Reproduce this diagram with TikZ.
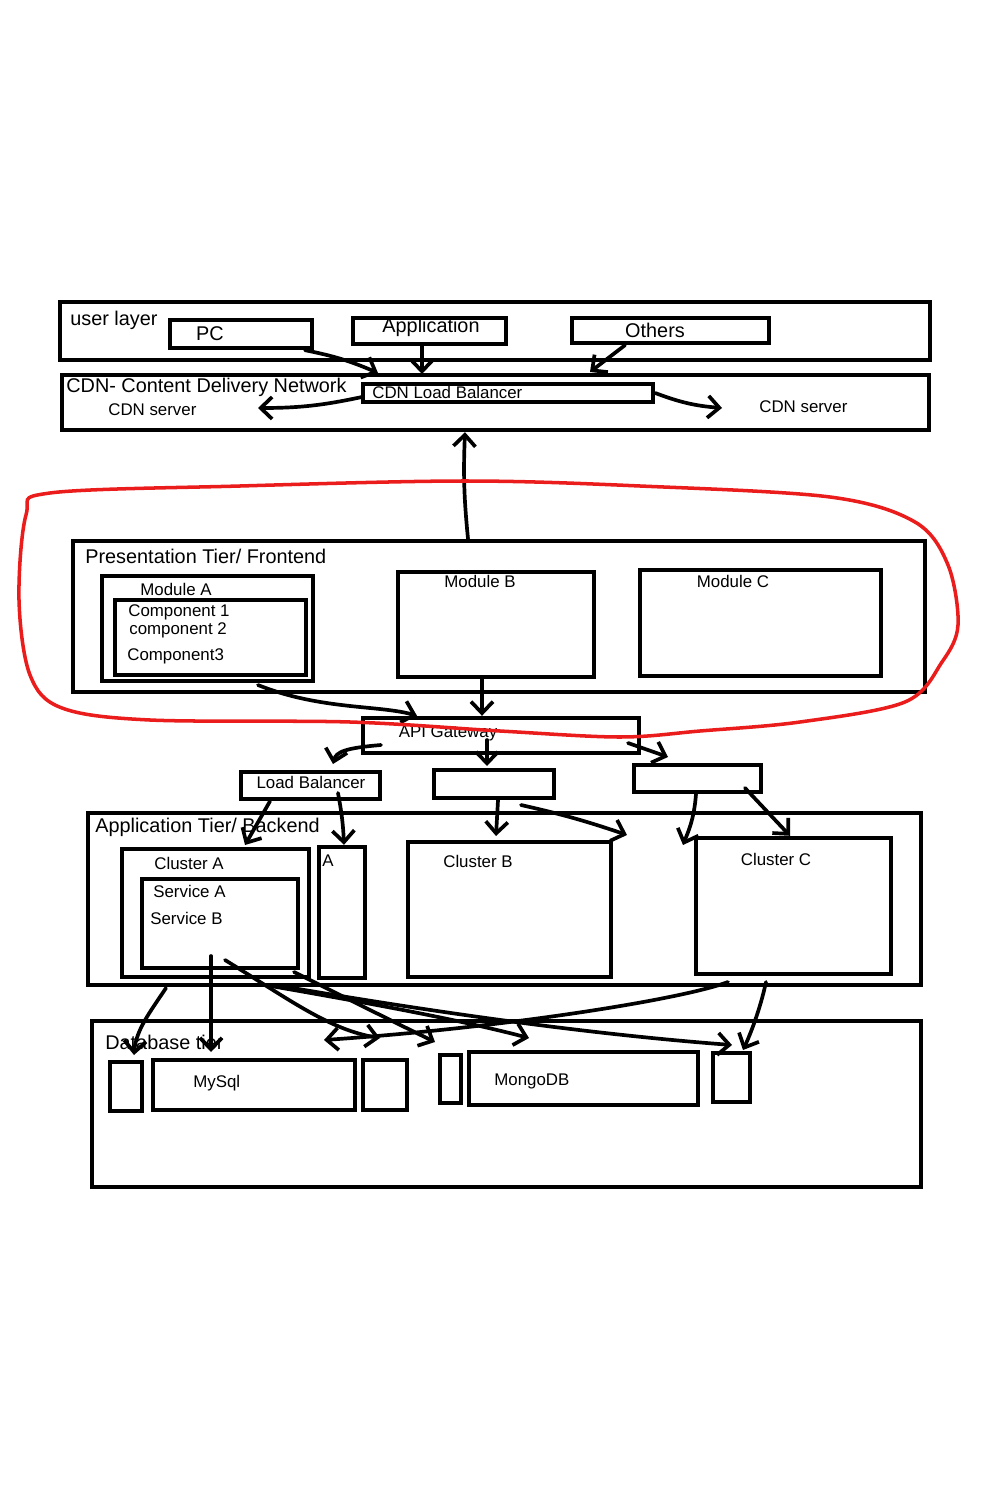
\documentclass[tikz,border=0pt]{standalone}
\usepackage{fontspec}
\setmainfont{Liberation Sans}
\usepackage{tikz}
\usetikzlibrary{arrows.meta,fit,positioning}
\definecolor{penred}{RGB}{235,28,28}
\definecolor{penblack}{RGB}{0,0,0}

\begin{document}
\begin{tikzpicture}[x=0.02cm,y=-0.02cm,
  box/.style={draw=penblack,line width=2.5pt,inner sep=0pt},
  big/.style={font=\fontsize{11.3}{13}\selectfont,inner sep=0pt},
  small/.style={font=\fontsize{9.6}{11}\selectfont,inner sep=0pt},
  pen/.style={draw=penblack,line width=2.1pt,line cap=round,line join=round,
    -{Straight Barb[length=2.3mm,width=4.4mm,line width=2.1pt]}}]
  \fill[white] (0,0) rectangle (1000,1500);
  \useasboundingbox (0,0) rectangle (1000,1500);
  % user layer
  \node[box,fit={(60,302) (930,360)}] (user) {};
  \node[big,anchor=west] (userlbl) at (70,320) {user layer};
  \node[box,fit={(170,320) (312,348)}] (pc) {};
  \node[big] (pclbl) at (210,334) {PC};
  \node[box,fit={(353,318) (506,344)}] (app) {};
  \node[big] (applbl) at (431,327) {Application};
  \node[box,fit={(572,318) (769,343)}] (others) {};
  \node[big] (otherslbl) at (655,330) {Others};
  % cdn
  \node[box,fit={(62,375) (929,430)}] (cdn) {};
  \node[big,anchor=west] (cdnlbl) at (66,387) {CDN- Content Delivery Network};
  \node[small,anchor=west] (cdnsrvl) at (108,410) {CDN server};
  \node[small,anchor=west] (cdnsrvr) at (759,407) {CDN server};
  \node[box,fit={(363,384) (653,402)}] (cdnlb) {};
  \node[small,anchor=west] (cdnlblbl) at (372,392) {CDN Load Balancer};
  \coordinate (pcin) at (378,373);
  \coordinate (othersin) at (590,372);
  \coordinate (lbleft) at (258,408);
  \coordinate (lbright) at (722,408);
  \draw[pen] (305,0 |- pc.south) to[bend left=6] (pcin);
  \draw[pen] (422,0 |- app.south) -- (422,374);
  \draw[pen] (625,0 |- others.south) -- (othersin);
  \draw[pen] (362,397) to[bend left=6] (lbleft);
  \draw[pen] (cdnlb.east) to[bend right=8] (lbright);
  % presentation tier
  \node[box,fit={(73,541) (925,692)}] (pres) {};
  \node[big,anchor=west] (preslbl) at (85,556) {Presentation Tier/ Frontend};
  \node[box,fit={(102,576) (313,681)}] (moda) {};
  \node[small] (modalbl) at (176,589) {Module A};
  \node[box,fit={(115,600) (306,675)}] (modain) {};
  \node[small,anchor=west] (comp1) at (128,612) {Component 1};
  \node[small,anchor=west] (comp2) at (129,630) {component 2};
  \node[small,anchor=west] (comp3) at (127,656) {Component3};
  \node[box,fit={(398,572) (594,677)}] (modb) {};
  \node[small] (modblbl) at (480,581) {Module B};
  \node[box,fit={(640,570) (881,676)}] (modc) {};
  \node[small] (modclbl) at (733,581) {Module C};
  \draw[pen] (468,0 |- pres.north) to[bend left=4] (465,0 |- cdn.south);
  % api gateway
  \node[box,fit={(363,718) (639,753)}] (api) {};
  \node[small] (apilbl) at (448,733) {API Gateway};
  \draw[pen] (258,685) .. controls (320,710) and (380,705) .. (417,0 |- api.north);
  \draw[pen] (482,0 |- modb.south) -- (482,0 |- api.north);
  \node[box,fit={(241,772) (380,799)}] (lb) {};
  \node[small] (lblbl) at (311,782) {Load Balancer};
  \node[box,fit={(434,770) (554,798)}] (mid) {};
  \node[box,fit={(634,765) (761,792)}] (rgt) {};
  \draw[pen] (381,745) .. controls (345,748) and (336,752) .. (333,764);
  \draw[pen] (487,740) -- (487,766);
  \draw[pen] (628,743) -- (668,757);
  % application tier
  \node[box,fit={(88,813) (921,985)}] (appt) {};
  \node[big,anchor=west] (apptlbl) at (95,827) {Application Tier/ Backend};
  \node[box,fit={(122,849) (309,977)}] (clA) {};
  \node[small,anchor=west] (clAlbl) at (154,863) {Cluster A};
  \node[box,fit={(142,879) (298,968)}] (clAin) {};
  \node[small,anchor=west] (srvA) at (153,891) {Service A};
  \node[small,anchor=west] (srvB) at (150,918) {Service B};
  \node[box,fit={(319,847) (365,978)}] (boxA) {};
  \node[small,anchor=west] (boxAlbl) at (322,861) {A};
  \node[box,fit={(408,842) (611,977)}] (clB) {};
  \node[small] (clBlbl) at (478,861) {Cluster B};
  \node[box,fit={(696,838) (891,974)}] (clC) {};
  \node[small] (clClbl) at (776,859) {Cluster C};
  \draw[pen] (270,0 |- lb.south) -- (245,845);
  \draw[pen] (338,793) to[bend left=4] (344,0 |- boxA.north);
  \draw[pen] (498,0 |- mid.south) -- (496,836);
  \draw[pen] (521,805) to[bend left=3] (627,835);
  \draw[pen] (696,0 |- rgt.south) .. controls (694,820) and (688,832) .. (683,845);
  \draw[pen] (745,788) -- (790,0 |- clC.north);
  % database tier
  \node[box,fit={(92,1021) (921,1187)}] (db) {};
  \node[big,anchor=west] (dblbl) at (105,1042) {Database tier};
  \node[box,fit={(110,1062) (142,1111)}] (s1) {};
  \node[box,fit={(153,1060) (355,1110)}] (mysql) {};
  \node[small,anchor=west] (mysqllbl) at (193,1083) {MySql};
  \node[box,fit={(363,1060) (407,1110)}] (s2) {};
  \node[box,fit={(440,1055) (461,1103)}] (s3) {};
  \node[box,fit={(469,1052) (698,1105)}] (mongo) {};
  \node[small,anchor=west] (mongolbl) at (494,1081) {MongoDB};
  \node[box,fit={(713,1053) (750,1102)}] (s4) {};
  \draw[pen] (166,988) .. controls (150,1012) and (136,1030) .. (134,1055);
  \draw[pen] (211,956) -- (211,1052);
  \draw[pen] (225,960) .. controls (290,1000) and (330,1030) .. (380,1038);
  \draw[pen] (294,972) .. controls (350,1000) and (400,1025) .. (435,1042);
  \draw[pen] (265,985) .. controls (380,1005) and (460,1020) .. (529,1038);
  \draw[pen] (275,985) .. controls (450,1015) and (600,1035) .. (732,1045);
  \draw[pen] (728,982) .. controls (680,1000) and (500,1028) .. (324,1040);
  \draw[pen] (766,982) .. controls (760,1010) and (750,1035) .. (743,1050);
  % red outline round the frontend
  \draw[penred,line width=2pt] plot[smooth cycle,tension=0.55] coordinates {
    (50,493) (240,486) (465,481) (640,486) (830,497) (915,522) (948,565)
    (958,625) (942,662) (905,702) (800,722) (700,731) (620,737) (500,731)
    (350,722) (150,720) (62,708) (30,675) (19,600) (26,515)};
\end{tikzpicture}
\end{document}
